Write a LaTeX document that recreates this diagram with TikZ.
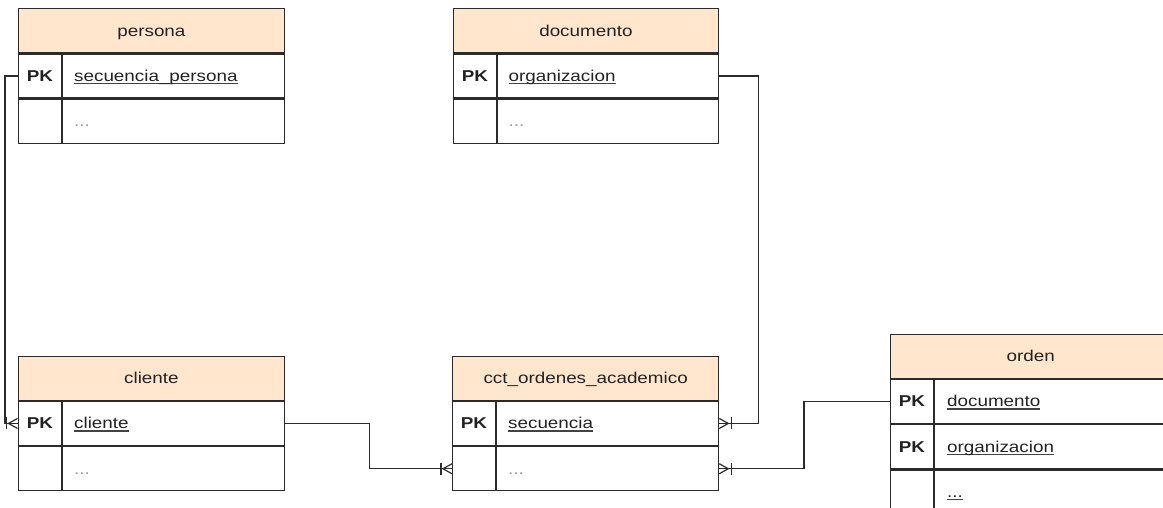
\documentclass[tikz,border=0pt]{standalone}
\usepackage{fontspec}
\setmainfont[FakeStretch=1.2]{Liberation Sans}
\usetikzlibrary{calc}
\definecolor{hdrfill}{HTML}{FFE6CC}
\definecolor{linec}{HTML}{2B2B2B}
\definecolor{txtc}{HTML}{222222}
\definecolor{dotc}{HTML}{9A9A9A}
\newsavebox{\undlbox}
\newcommand{\undl}[1]{\sbox{\undlbox}{#1}\rlap{\color{txtc!85}\rule[-2.6pt]{\wd\undlbox}{1.2pt}}\usebox{\undlbox}}
\begin{document}
\begin{tikzpicture}[x=1pt,y=-1pt,
  font=\fontsize{15.7}{19}\selectfont,
  cell/.style={draw=linec, line width=1.3pt, inner sep=0pt, minimum height=44pt, anchor=north west},
  hdr/.style={cell, fill=hdrfill, text=txtc, text height=11pt, text depth=0pt},
  pk/.style={anchor=base, inner sep=0pt, text=txtc, font=\fontsize{15.7}{19}\selectfont\bfseries},
  fld/.style={anchor=base west, inner sep=0pt, text=txtc},
  dots/.style={anchor=base west, inner sep=0pt, text=dotc},
  conn/.style={draw=linec, line width=1.2pt},
  divider/.style={draw=linec, line width=1.3pt},
  crowL/.pic={\draw[conn] (0,-5) -- (-9,0) -- (0,5); \draw[conn] (-11,-6) -- (-11,6);},
  crowR/.pic={\draw[conn] (0,-5) -- (9,0) -- (0,5); \draw[conn] (12,-6) -- (12,6);}
]
\useasboundingbox (0,0) rectangle (1163,508);
\clip (0,0) rectangle (1163,508);

% persona
\node[hdr, minimum width=266.5pt] (persona) at (17.5,8) {persona};
\node[cell, minimum width=266.5pt] (persona-r1) at (persona.south west) {};
\node[cell, minimum width=266.5pt] (persona-r2) at (persona-r1.south west) {};
\draw[divider] ($(persona-r1.north west)+(44.5,0)$) -- ($(persona-r2.south west)+(44.5,0)$);
\node[pk] (persona-pk) at ($(persona-r1.west)+(22.5,5.5)$) {PK};
\node[fld] (persona-f1) at ($(persona-r1.west)+(56.5,5.5)$) {\undl{secuencia\_persona}};
\node[dots] (persona-f2) at ($(persona-r2.west)+(56.5,5.5)$) {...};

% documento
\node[hdr, minimum width=265.5pt] (documento) at (452.5,8) {documento};
\node[cell, minimum width=265.5pt] (documento-r1) at (documento.south west) {};
\node[cell, minimum width=265.5pt] (documento-r2) at (documento-r1.south west) {};
\draw[divider] ($(documento-r1.north west)+(44.5,0)$) -- ($(documento-r2.south west)+(44.5,0)$);
\node[pk] (documento-pk) at ($(documento-r1.west)+(22.5,5.5)$) {PK};
\node[fld] (documento-f1) at ($(documento-r1.west)+(56,5.5)$) {\undl{organizacion}};
\node[dots] (documento-f2) at ($(documento-r2.west)+(56,5.5)$) {...};

% cliente
\node[hdr, minimum width=266.5pt] (cliente) at (17.5,355.5) {cliente};
\node[cell, minimum width=266.5pt] (cliente-r1) at (cliente.south west) {};
\node[cell, minimum width=266.5pt] (cliente-r2) at (cliente-r1.south west) {};
\draw[divider] ($(cliente-r1.north west)+(44.5,0)$) -- ($(cliente-r2.south west)+(44.5,0)$);
\node[pk] (cliente-pk) at ($(cliente-r1.west)+(22.5,5.5)$) {PK};
\node[fld] (cliente-f1) at ($(cliente-r1.west)+(56.5,5.5)$) {\undl{cliente}};
\node[dots] (cliente-f2) at ($(cliente-r2.west)+(56.5,5.5)$) {...};

% cct_ordenes_academico
\node[hdr, minimum width=266pt] (cct) at (452,355.5) {cct\_ordenes\_academico};
\node[cell, minimum width=266pt] (cct-r1) at (cct.south west) {};
\node[cell, minimum width=266pt] (cct-r2) at (cct-r1.south west) {};
\draw[divider] ($(cct-r1.north west)+(44,0)$) -- ($(cct-r2.south west)+(44,0)$);
\node[pk] (cct-pk) at ($(cct-r1.west)+(22,5.5)$) {PK};
\node[fld] (cct-f1) at ($(cct-r1.west)+(56,5.5)$) {\undl{secuencia}};
\node[dots] (cct-f2) at ($(cct-r2.west)+(56,5.5)$) {...};

% orden
\node[hdr, minimum width=280pt] (orden) at (890,333.5) {orden};
\node[cell, minimum width=280pt] (orden-r1) at (orden.south west) {};
\node[cell, minimum width=280pt] (orden-r2) at (orden-r1.south west) {};
\node[cell, minimum width=280pt] (orden-r3) at (orden-r2.south west) {};
\draw[divider] ($(orden-r1.north west)+(44,0)$) -- ($(orden-r3.south west)+(44,0)$);
\node[pk] (orden-pk1) at ($(orden-r1.west)+(22,5.5)$) {PK};
\node[fld] (orden-f1) at ($(orden-r1.west)+(57,5.5)$) {\undl{documento}};
\node[pk] (orden-pk2) at ($(orden-r2.west)+(22,5.5)$) {PK};
\node[fld] (orden-f2) at ($(orden-r2.west)+(57,5.5)$) {\undl{organizacion}};
\node[fld] (orden-f3) at ($(orden-r3.west)+(57,5.5)$) {\undl{...}};

% connectors
\draw[conn] (persona-r1.west) -- ++(-12.5,0) |- (cliente-r1.west);
\pic at (cliente-r1.west) {crowL};
\draw[conn] (cliente-r1.east) -- ++(84,0) |- (cct-r2.west);
\pic at (cct-r2.west) {crowL};
\draw[conn] (documento-r1.east) -- ++(39,0) |- (cct-r1.east);
\pic at (cct-r1.east) {crowR};
\draw[conn] (orden-r1.west) -- ++(-86,0) |- (cct-r2.east);
\pic at (cct-r2.east) {crowR};
\end{tikzpicture}
\end{document}
